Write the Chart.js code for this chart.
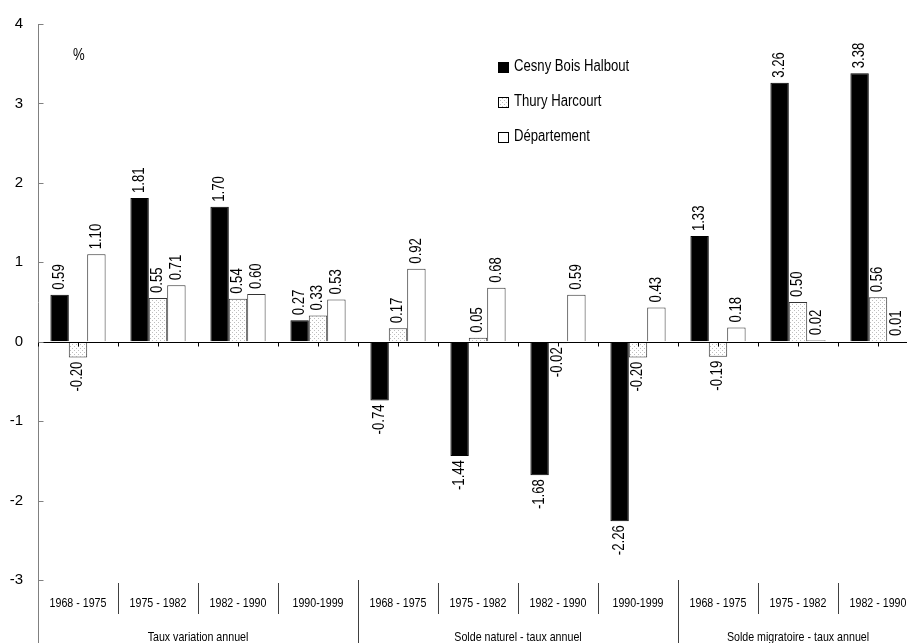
<!DOCTYPE html>
<html lang="fr">
<head>
<meta charset="utf-8">
<title>Évolution de la population</title>
<script src="https://cdn.jsdelivr.net/npm/chart.js@4.4.0/dist/chart.umd.min.js"></script>
<style>
    html, body { margin: 0; padding: 0; background: #fff; overflow: hidden; }
    #wrap { width: 907px; height: 643px; overflow: hidden; position: relative; }
    canvas { display: block; }
</style>
</head>
<body>
<div id="wrap"><canvas id="chart" width="918" height="643"></canvas></div>
<script>
// -------------------------------------------------------------------------
// 1. Data
// -------------------------------------------------------------------------
const periodes = [
    "1968 - 1975", "1975 - 1982", "1982 - 1990", "1990-1999",
    "1968 - 1975", "1975 - 1982", "1982 - 1990", "1990-1999",
    "1968 - 1975", "1975 - 1982", "1982 - 1990"
];
const groupes = ["Taux variation annuel", "Solde naturel - taux annuel", "Solde migratoire - taux annuel"];
const tailleGroupes = [4, 4, 3];

const cesny = [0.59, 1.81, 1.70, 0.27, -0.74, -1.44, -1.68, -2.26, 1.33, 3.26, 3.38];
const thury = [-0.20, 0.55, 0.54, 0.33, 0.17, 0.05, -0.02, -0.20, -0.19, 0.50, 0.56];
const departement = [1.10, 0.71, 0.60, 0.53, 0.92, 0.68, 0.59, 0.43, 0.18, 0.02, 0.01];

const yTicks = [-3, -2, -1, 0, 1, 2, 3, 4];

const FONT = "'Liberation Sans Narrow', 'Liberation Sans', Arial, sans-serif";
const ETROIT = 0.82; // horizontal squeeze, the original font is a narrow one

// -------------------------------------------------------------------------
// 2. Helpers
// -------------------------------------------------------------------------
const canvas = document.getElementById("chart");

// dotted fill used by Thury Harcourt
function motifPoints() {
    const c = document.createElement("canvas");
    c.width = 4; c.height = 4;
    const g = c.getContext("2d");
    g.fillStyle = "#fff";
    g.fillRect(0, 0, 4, 4);
    g.fillStyle = "#bdbdbd";
    g.fillRect(0, 0, 1, 1);
    g.fillRect(2, 2, 1, 1);
    return canvas.getContext("2d").createPattern(c, "repeat");
}

// narrow text, optionally rotated
function texte(ctx, txt, x, y, align, angle) {
    ctx.save();
    ctx.translate(x, y);
    if (angle) ctx.rotate(angle);
    ctx.scale(ETROIT, 1);
    ctx.textAlign = align;
    ctx.fillText(txt, 0, 0);
    ctx.restore();
}

// axes, bottom labels, value labels, legend
const decorPlugin = {
    id: "decor",
    afterDatasetsDraw(chart) {
        const ctx = chart.ctx;
        const area = chart.chartArea;
        const xs = chart.scales.x, ys = chart.scales.y;
        const y0 = Math.round(ys.getPixelForValue(0)) + 0.5;
        const step = xs.getPixelForValue(1) - xs.getPixelForValue(0);
        const left = Math.round(area.left) + 0.5;

        ctx.save();

        // zero line + small ticks
        ctx.strokeStyle = "#000";
        ctx.lineWidth = 1;
        ctx.beginPath();
        ctx.moveTo(left, y0);
        ctx.lineTo(area.right, y0);
        periodes.forEach((p, i) => {
            const c = xs.getPixelForValue(i);
            [c - step / 2, c].forEach(px => {
                const xx = Math.round(px) + 0.5;
                ctx.moveTo(xx, y0);
                ctx.lineTo(xx, y0 + 4);
            });
        });
        ctx.stroke();

        // y ticks pointing inward, axis running down to the bottom
        ctx.strokeStyle = "#808080";
        ctx.beginPath();
        yTicks.forEach(v => {
            const yy = Math.round(ys.getPixelForValue(v)) + 0.5;
            ctx.moveTo(left, yy);
            ctx.lineTo(left + 5, yy);
        });
        ctx.moveTo(left, area.bottom);
        ctx.lineTo(left, chart.height);
        ctx.stroke();

        // period labels and separators
        const finsGroupes = [];
        let n = 0;
        tailleGroupes.forEach(t => { n += t; finsGroupes.push(n - 1); });

        ctx.fillStyle = "#000";
        ctx.font = "13px " + FONT;
        ctx.textBaseline = "middle";
        ctx.strokeStyle = "#404040";
        ctx.beginPath();
        periodes.forEach((p, i) => {
            const c = xs.getPixelForValue(i);
            texte(ctx, p, c, area.bottom + 23, "center");
            const xx = Math.round(c + step / 2) + 0.5;
            if (finsGroupes.includes(i)) {
                ctx.moveTo(xx, area.bottom);
                ctx.lineTo(xx, chart.height);
            } else {
                ctx.moveTo(xx, area.bottom + 3);
                ctx.lineTo(xx, area.bottom + 34);
            }
        });
        ctx.stroke();

        // group labels
        let debut = 0;
        groupes.forEach((g, k) => {
            const a = xs.getPixelForValue(debut) - step / 2;
            const b = xs.getPixelForValue(debut + tailleGroupes[k] - 1) + step / 2;
            texte(ctx, g, (a + b) / 2, area.bottom + 57, "center");
            debut += tailleGroupes[k];
        });

        // rotated value labels
        ctx.font = "16px " + FONT;
        chart.data.datasets.forEach((ds, d) => {
            chart.getDatasetMeta(d).data.forEach((el, i) => {
                const v = ds.data[i];
                if (v >= 0) texte(ctx, v.toFixed(2), el.x, el.y - 5, "left", -Math.PI / 2);
                else texte(ctx, v.toFixed(2), el.x, el.y + 4, "right", -Math.PI / 2);
            });
        });

        // unit
        ctx.font = "16px " + FONT;
        texte(ctx, "%", 73, 56, "left");

        // legend
        const legendY = [67, 102, 137];
        chart.data.datasets.forEach((ds, d) => {
            const yy = legendY[d];
            ctx.fillStyle = ds.backgroundColor;
            ctx.fillRect(498, yy - 5, 10, 10);
            ctx.strokeStyle = "#000";
            ctx.strokeRect(498.5, yy - 4.5, 10, 10);
            ctx.fillStyle = "#000";
            texte(ctx, ds.label, 514, yy, "left");
        });

        ctx.restore();
    }
};

// -------------------------------------------------------------------------
// 3. Chart
// -------------------------------------------------------------------------
new Chart(canvas, {
    type: "bar",
    data: {
        labels: periodes,
        datasets: [
            { label: "Cesny Bois Halbout", data: cesny, backgroundColor: "#000", borderColor: "#000", borderWidth: 1 },
            { label: "Thury Harcourt", data: thury, backgroundColor: motifPoints(), borderColor: "#333", borderWidth: 1 },
            { label: "Département", data: departement, backgroundColor: "#fff", borderColor: "#333", borderWidth: 1 }
        ]
    },
    options: {
        responsive: false,
        animation: false,
        devicePixelRatio: 1,
        layout: { padding: { top: 24, bottom: 63, left: 0, right: 0 } },
        datasets: { bar: { categoryPercentage: 0.69, barPercentage: 1 } },
        scales: {
            x: { display: false },
            y: {
                min: yTicks[0],
                max: yTicks[yTicks.length - 1],
                afterFit: s => { s.width = 38; },
                grid: { drawOnChartArea: false, drawTicks: false },
                border: { display: true, color: "#808080", width: 1 },
                ticks: { stepSize: 1, padding: 15, color: "#000", font: { family: FONT, size: 15 } }
            }
        },
        plugins: {
            legend: { display: false },
            tooltip: { enabled: false }
        }
    },
    plugins: [decorPlugin]
});
</script>
</body>
</html>
